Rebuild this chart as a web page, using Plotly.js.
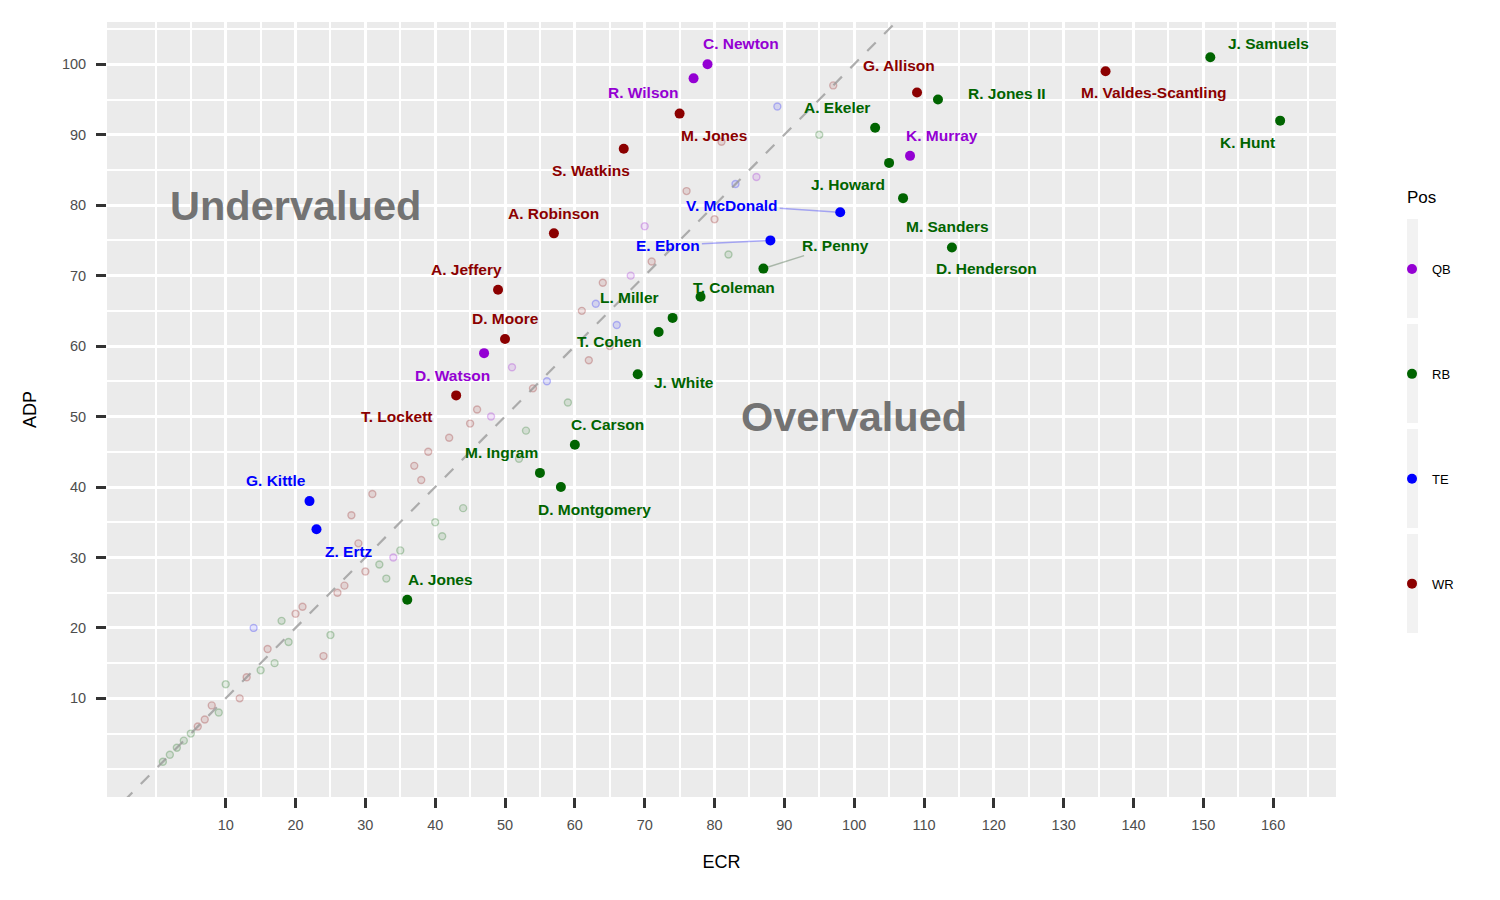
<!DOCTYPE html>
<html>
<head>
<meta charset="utf-8">
<script src="https://cdn.plot.ly/plotly-3.0.1.min.js"></script>
<style>html,body{margin:0;padding:0;background:#fff;}#chart{width:1500px;height:900px;}</style>
</head>
<body>
<div id="chart"></div>
<script>
// ---------------- DATA ----------------
const positions = ['QB', 'RB', 'TE', 'WR'];

// highlighted (labelled) players
const hlNames = ['C. Newton','R. Wilson','D. Watson','K. Murray',
  'M. Jones','S. Watkins','A. Robinson','A. Jeffery','D. Moore','T. Lockett','G. Allison','M. Valdes-Scantling',
  'G. Kittle','Z. Ertz','E. Ebron','V. McDonald',
  'A. Jones','M. Ingram','D. Montgomery','C. Carson','J. White','T. Cohen','L. Miller','T. Coleman','R. Penny',
  'J. Howard','M. Sanders','D. Henderson','A. Ekeler','R. Jones II','J. Samuels','K. Hunt'];
const hlPos = ['QB','QB','QB','QB',
  'WR','WR','WR','WR','WR','WR','WR','WR',
  'TE','TE','TE','TE',
  'RB','RB','RB','RB','RB','RB','RB','RB','RB','RB','RB','RB','RB','RB','RB','RB'];
const hlECR = [79,77,47,108, 75,67,57,49,50,43,109,136, 22,23,88,98,
  36,55,58,60,69,72,74,78,87,105,107,114,103,112,151,161];
const hlADP = [100,98,59,87, 93,88,76,68,61,53,96,99, 38,34,75,79,
  24,42,40,46,56,62,64,67,71,86,81,74,91,95,101,92];

// faded (fairly valued) players by position
const qbFadedECR = [34,48,51,68,70,86];
const qbFadedADP = [30,50,57,70,77,84];
const rbFadedECR = [1,2,3,4,5,9,10,15,17,18,19,25,32,33,35,40,41,44,52,53,59,82,95];
const rbFadedADP = [1,2,3,4,5,8,12,14,15,21,18,19,29,27,31,35,33,37,44,48,52,73,90];
const teFadedECR = [14,56,63,66,83,89];
const teFadedADP = [20,55,66,63,83,94];
const wrFadedECR = [6,7,8,12,13,16,20,21,24,26,27,28,29,30,31,37,38,39,42,45,46,54,61,62,64,65,71,76,80,81,97];
const wrFadedADP = [6,7,9,10,13,17,22,23,16,25,26,36,32,28,39,43,41,45,47,49,51,54,65,58,69,60,72,82,78,89,97];

const xTicks = [10,20,30,40,50,60,70,80,90,100,110,120,130,140,150,160];
const yTicks = [10,20,30,40,50,60,70,80,90,100];

// ---------------- STYLE / LAYOUT ----------------
const posColor = {QB:'#9400D3', RB:'#006400', TE:'#0000FF', WR:'#8B0000'};
const posRGB = {QB:'148,0,211', RB:'0,100,0', TE:'0,0,255', WR:'139,0,0'};
// label offsets in pixels (label centre relative to point)
const labelDX = [33,-51,-32,32, 34,-33,0,-32,0,-60,-18,48, -34,33,-102,-108,
  33,-38,34,33,46,-49,-43,33,72,-41,44,35,-38,69,58,-33];
const labelDY = [-21,14,22,-20, 22,22,-20,-20,-21,21,-27,21, -21,22,5,-7,
  -20,-20,22,-20,8,9,-20,-9,-23,22,28,21,-20,-6,-14,22];
const segmentShown = ['E. Ebron','V. McDonald','R. Penny'];

const ML = 107, MR = 164, MT = 22, MB = 103, W = 1500, H = 900;
const PW = W - ML - MR, PH = H - MT - MB;
const px2x = p => (p - ML) / PW;
const px2y = p => 1 - (p - MT) / PH;
const xRange = [-7, 169], yRange = [-4, 106];
const FONT = 'Liberation Sans, Arial, Helvetica, sans-serif';

const traces = [];
const faded = {QB:[qbFadedECR,qbFadedADP], RB:[rbFadedECR,rbFadedADP], TE:[teFadedECR,teFadedADP], WR:[wrFadedECR,wrFadedADP]};
positions.forEach(p => {
  traces.push({
    type:'scatter', mode:'markers', x: faded[p][0], y: faded[p][1], showlegend:false, hoverinfo:'skip',
    marker:{size:7, color:'rgba('+posRGB[p]+',0.10)', line:{width:1.4, color:'rgba('+posRGB[p]+',0.24)'}}
  });
});
positions.forEach(p => {
  const idx = hlPos.map((v,i)=>v===p?i:-1).filter(i=>i>=0);
  traces.push({
    type:'scatter', mode:'markers', name:p, legendgroup:p,
    x: idx.map(i=>hlECR[i]), y: idx.map(i=>hlADP[i]), text: idx.map(i=>hlNames[i]),
    hoverinfo:'text+x+y',
    marker:{size:10, color:posColor[p], line:{width:0}}
  });
});

const annotations = hlNames.map((n,i) => {
  const c = posColor[hlPos[i]];
  const seg = segmentShown.indexOf(n) >= 0;
  return {
    x: hlECR[i], y: hlADP[i], xref:'x', yref:'y',
    text:'<b>'+n+'</b>', showarrow:true, ax:labelDX[i], ay:labelDY[i],
    arrowhead:0, arrowwidth: seg ? 1.5 : 0.1, standoff: seg ? 5 : 0,
    arrowcolor: seg ? (hlPos[i]==='TE' ? 'rgba(0,0,255,0.3)' : 'rgba(90,120,90,0.45)') : 'rgba(0,0,0,0)',
    font:{family:FONT, size:15.5, color:c}
  };
});
annotations.push({x:20, y:80, xref:'x', yref:'y', text:'<b>Undervalued</b>', showarrow:false,
  font:{family:FONT, size:41.5, color:'#737373'}});
annotations.push({x:100, y:50, xref:'x', yref:'y', text:'<b>Overvalued</b>', showarrow:false,
  font:{family:FONT, size:41.5, color:'#737373'}});
annotations.push({x:px2x(1405), y:px2y(197), xref:'paper', yref:'paper', xanchor:'left', yanchor:'middle',
  text:'Pos', showarrow:false, font:{family:FONT, size:17, color:'#000'}});

const shapes = [];
// identity line ADP = ECR across the panel
shapes.push({type:'line', xref:'x', yref:'y', x0:xRange[0], y0:xRange[0], x1:yRange[1], y1:yRange[1],
  line:{color:'rgba(150,150,150,0.75)', width:2.2, dash:'12px,12px'}, layer:'above'});
// legend key backgrounds
const keyTops = [219, 324, 429, 534];
keyTops.forEach(t => shapes.push({type:'rect', xref:'paper', yref:'paper',
  x0:px2x(1407), x1:px2x(1418), y0:px2y(t+99), y1:px2y(t), fillcolor:'#F2F2F2', line:{width:0}, layer:'below'}));

const minorVals = [];
for (let v = 0; v <= 170; v += 5) minorVals.push(v);

const layout = {
  width:W, height:H, paper_bgcolor:'#FFFFFF', plot_bgcolor:'#EBEBEB',
  margin:{l:ML, r:MR, t:MT, b:MB, pad:0},
  font:{family:FONT, color:'#000'},
  showlegend:true,
  legend:{x:px2x(1392), y:px2y(254), xanchor:'left', yanchor:'top', bgcolor:'rgba(0,0,0,0)',
    tracegroupgap:85, traceorder:'grouped', font:{family:FONT, size:13, color:'#000'}},
  xaxis:{range:xRange, tickmode:'array', tickvals:xTicks, ticks:'outside', ticklen:10, tickwidth:3, tickcolor:'#333333',
    ticklabelstandoff:5,
    showgrid:true, gridcolor:'#FFFFFF', gridwidth:2.5, zeroline:false, showline:false,
    tickfont:{family:FONT, size:14.5, color:'#4D4D4D'},
    minor:{tickmode:'array', tickvals:minorVals, showgrid:true, gridcolor:'#FFFFFF', gridwidth:1.5, ticks:''},
    title:{text:'ECR', font:{family:FONT, size:18, color:'#000'}, standoff:22}, automargin:false, fixedrange:true},
  yaxis:{range:yRange, tickmode:'array', tickvals:yTicks, ticks:'outside', ticklen:10, tickwidth:3, tickcolor:'#333333',
    ticklabelstandoff:7,
    showgrid:true, gridcolor:'#FFFFFF', gridwidth:2.5, zeroline:false, showline:false,
    tickfont:{family:FONT, size:14.5, color:'#4D4D4D'},
    minor:{tickmode:'array', tickvals:minorVals, showgrid:true, gridcolor:'#FFFFFF', gridwidth:1.5, ticks:''},
    title:{text:'ADP', font:{family:FONT, size:18, color:'#000'}, standoff:20}, automargin:false, fixedrange:true},
  annotations: annotations,
  shapes: shapes,
  hovermode:'closest'
};

Plotly.newPlot('chart', traces, layout, {displayModeBar:false, staticPlot:false});
</script>
</body>
</html>
